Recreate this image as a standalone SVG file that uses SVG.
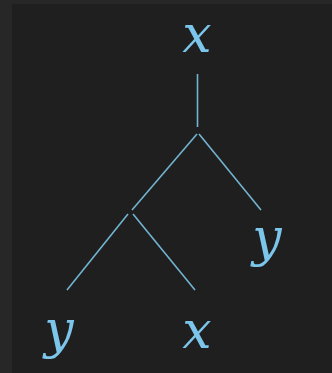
<svg xmlns="http://www.w3.org/2000/svg" width="332" height="373" viewBox="0 0 332 373">
<style>
.lbl{font-family:"DejaVu Serif","Liberation Serif",serif;font-style:italic;font-size:52px;fill:#7cc6ec;text-anchor:middle}
.edge{stroke:#72b4d2;stroke-width:1.6;fill:none;stroke-linecap:butt}
</style>
<rect x="0" y="0" width="332" height="373" fill="#272727"/>
<rect x="12" y="4" width="320" height="369" fill="#1f1f1f"/>
<g id="connectors">
<line class="edge" x1="197.5" y1="74" x2="197.5" y2="127"/>
<line class="edge" x1="197" y1="134" x2="132" y2="210"/>
<line class="edge" x1="199" y1="134" x2="261" y2="210"/>
<line class="edge" x1="128" y1="214" x2="67" y2="290"/>
<line class="edge" x1="133" y1="214" x2="195" y2="290"/>
</g>
<g id="node-root"><text class="lbl" x="197" y="52">x</text></g>
<g id="node-right-y"><text class="lbl" x="267" y="255">y</text></g>
<g id="node-left-y"><text class="lbl" x="59" y="347">y</text></g>
<g id="node-left-x"><text class="lbl" x="197" y="348">x</text></g>
</svg>
